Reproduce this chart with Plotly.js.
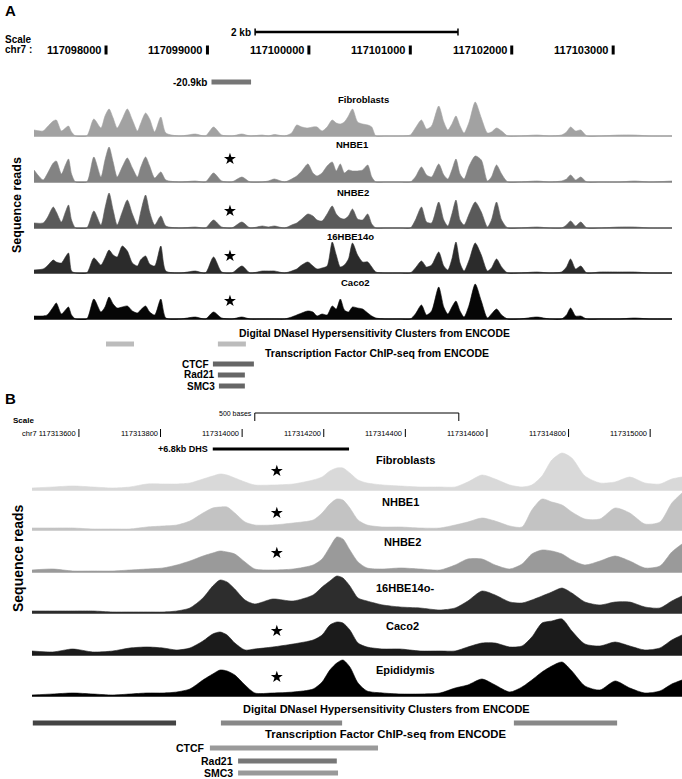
<!DOCTYPE html>
<html><head><meta charset="utf-8">
<script src="https://cdn.plot.ly/plotly-3.0.1.min.js"></script>
<style>html,body{margin:0;padding:0;background:#fff}#chart{width:682px;height:779px}</style>
</head><body><div id="chart"></div>
<script>
// ---------------- Panel A data (chr7, bp) ----------------
const posA = [117097290,117097380,117097420,117097480,117097510,117097560,117097600,117097630,117097660,117097700,
117097810,117097880,117097950,117097990,117098030,117098070,117098110,117098160,117098210,117098260,
117098310,117098340,117098390,117098430,117098480,117098540,117098590,117098730,117098880,117098980,
117099060,117099140,117099240,117099340,117099420,117099540,117099600,117099660,117099760,117099830,
117099880,117099930,117099990,117100040,117100080,117100130,117100180,117100230,117100270,117100310,
117100350,117100390,117100430,117100480,117100530,117100580,117100620,117100660,117100750,117100900,
117101000,117101050,117101110,117101160,117101210,117101280,117101330,117101370,117101410,117101450,
117101490,117101530,117101580,117101640,117101700,117101760,117101800,117101850,117101900,117101960,
117102080,117102250,117102370,117102490,117102540,117102580,117102630,117102680,117102740,117102870,
117103060,117103210,117103360,117103580];
const fibroA = [6,5,9,15,16,5,8,10,4,0, 0,17,8,20,27,18,8,17,27,16, 5,12,23,17,4,19,3,0,2,0, 9,1,0,2,0,1,0,1.5,0,3,
11,9,8,9,9,5,9,16,13,12, 14,20,27,14,12,11,9,0,0,0, 1,8,16,7,10,30,14,6,12,20, 10,3,14,34,18,3,4,8,5,0, 0,1,0,1,4,9,5,6,0,0, 1,1,0,0];
const nhbe1A = [12,2,8,19,21,8,17,23,8,0, 0,25,5,22,35,20,5,15,24,14, 5,14,25,16,4,10,2,0,1,0, 9,1,0,5,0,0,1,3,0,3,
6,11,18,9,6,9,16,20,11,18, 9,12,11,11,12,17,5,0,0,0, 0,5,15,7,5,18,7,3,12,23, 8,3,16,26,22,1,5,17,8,0, 0,1,0,1,3,7,2,5,0,0, 0,1,0,1];
const nhbe2A = [5,5,10,21,16,6,16,23,8,0, 0,17,3,20,35,18,3,16,28,14, 3,15,33,16,3,12,2,0,1,0, 8,1,0,6,0,2,1,2,0,3,
5,9,14,12,8,7,14,22,14,10, 9,12,19,9,8,14,4,0,0,0, 0,8,21,6,5,26,8,2,14,28, 8,3,14,26,16,1,8,26,8,0, 0,1,0,0,3,7,2,6,0,0, 1,1,0,0];
const hbeA = [3,4,7,13,11,10,16,20,2,0, 0,15,8,15,23,18,16,27,22,10, 7,13,17,9,7,27,2,0,2,0, 16,1,0,7,0,2,2,2,0,2,
4,8,11,7,4,5,7,31,18,6, 8,14,30,18,11,11,6,1,0,0, 0,5,12,6,8,21,7,3,14,31, 10,2,13,30,18,2,5,14,6,0, 0,1,0,1,6,14,4,7,0,1, 1,1,0,0];
const caco2A = [3,3,4,12,16,5,9,12,4,0, 0,20,7,12,22,15,11,12,13,8, 6,9,13,7,4,20,1,0,2,0, 7,1,0,2,0,0,0,0,0,2,
4,6,8,7,3,5,4,13,10,20, 9,7,12,11,10,6,3,1,0,0, 0,5,14,4,8,32,12,5,12,18, 8,2,14,35,18,1,5,10,4,0, 0,2,0,0,4,11,3,3,0,0, 0,1,0,0];
const namesA = ['Fibroblasts','NHBE1','NHBE2','16HBE14o','Caco2'];
const ticksA = [117098000,117099000,117100000,117101000,117102000,117103000];
const tickLabelsA = ['117098000','117099000','117100000','117101000','117102000','117103000'];
const scaleA = [117099470, 117101470];          // 2 kb
const dhsA = [117099040, 117099430];            // -20.9kb
const dnaseA = [[117098000,117098276],[117099103,117099379]];
const tfNames = ['CTCF','Rad21','SMC3'];
const tfA = [[117099054,117099458],[117099103,117099369],[117099113,117099369]];
const starPosA = 117099222;
const starHA = [null,23,17,17,18];

// ---------------- Panel B data ----------------
const posB = [117313485,117313536,117313585,117313634,117313683,117313725,117313767,117313806,117313840,117313872,
117313904,117313928,117313946,117313963,117313982,117314007,117314031,117314075,117314125,117314174,
117314196,117314215,117314232,117314247,117314264,117314284,117314306,117314345,117314387,117314436,
117314485,117314522,117314553,117314588,117314620,117314656,117314686,117314710,117314735,117314759,
117314784,117314808,117314840,117314877,117314914,117314950,117314987,117315024,117315053,117315078];
const fibroB = [2,3,4,3,2,3,6,6,6,7, 11,14,16,15,12,8,5,5,6,10, 13,19,22,22,17,10,7,5,4,3, 3,3,8,15,11,5,3,5,14,30, 37,32,14,7,8,13,7,6,11,13];
const nhbe1B = [2,2,2,1,1,1,3,4,5,9, 17,22,23,23,17,8,5,5,7,10, 17,26,31,30,22,10,5,3,3,2, 2,5,8,12,9,4,3,20,31,28, 25,18,11,11,22,17,6,8,27,37];
const nhbe2B = [2,3,1,1,1,2,3,4,7,11, 16,19,21,20,18,10,3,2,3,7, 13,25,35,33,22,10,4,3,4,3, 2,7,13,13,7,3,8,18,22,21, 18,12,7,11,16,11,4,6,20,28];
const hbeB = [2,2,2,2,1,1,1,1,2,5, 15,27,33,31,24,13,9,14,12,18, 26,32,37,35,27,15,12,8,6,5, 3,5,12,22,18,11,10,13,17,21, 25,20,11,8,11,11,6,5,12,17];
const caco2B = [4,3,6,3,4,7,8,7,5,7, 14,21,23,20,12,5,6,8,11,15, 20,30,33,32,25,12,8,6,6,4, 4,4,8,12,12,8,9,18,32,34, 36,24,11,9,13,9,5,7,15,20];
const epiB = [1,2,3,2,1,2,3,3,4,7, 16,22,26,25,21,11,3,3,4,7, 14,26,33,36,29,13,5,3,2,2, 3,8,11,17,11,4,9,16,24,30, 34,25,10,6,15,8,3,5,12,16];
const namesB = ['Fibroblasts','NHBE1','NHBE2','16HBE14o-','Caco2','Epididymis'];
const ticksB = [117313600,117313800,117314000,117314200,117314400,117314600,117314800,117315000];
const tickLabelsB = ['chr7 117313600','117313800','117314000','117314200','117314400','117314600','117314800','117315000'];
const scaleB = [117314031, 117314531];          // 500 bases
const dhsB = [117313928, 117314262];            // +6.8kb DHS
const dnaseB = [[117313487,117313838],[117313948,117314245],[117314666,117314919]];
const tfB = [[117313921,117314333],[117313990,117314232],[117313990,117314235]];
const starPosB = 117314085;
const starHB = [19,17,19,null,24,19];

// ---------------- layout helpers ----------------
const W=682,H=779;
const fx=p=>p/W, fy=p=>1-p/H;
const FONT='"Liberation Sans", Arial, Helvetica, sans-serif';
const data=[];
const layout={width:W,height:H,margin:{l:0,r:0,t:0,b:0,pad:0},showlegend:false,
  paper_bgcolor:'#fff',plot_bgcolor:'rgba(0,0,0,0)',font:{family:FONT,color:'#000'},
  annotations:[],shapes:[]};
layout.xaxis={domain:[fx(34),fx(672)],range:[posA[0],posA[posA.length-1]],visible:false,fixedrange:true};
layout.xaxis2={domain:[fx(32),1],range:[posB[0],posB[posB.length-1]],visible:false,fixedrange:true};

function ann(text,x,yPx,o){
  o=o||{};
  layout.annotations.push({text:text,x:x,y:fy(yPx),xref:o.xref||'paper',yref:'paper',
    xanchor:o.xa||'center',yanchor:'middle',showarrow:false,xshift:o.xs||0,textangle:o.angle||0,
    borderpad:0,
    font:{family:FONT,size:o.size||10,color:'#000',weight:o.w===undefined?'bold':o.w}});
}
function bar(xref,x0,x1,yPx,thick,color){
  layout.shapes.push({type:'rect',xref:xref,yref:'paper',x0:x0,x1:x1,y0:fy(yPx+thick/2),y1:fy(yPx-thick/2),
    fillcolor:color,line:{width:0}});
}
function vline(xref,x,y0Px,y1Px,w,color){
  layout.shapes.push({type:'line',xref:xref,yref:'paper',x0:x,x1:x,y0:fy(y0Px),y1:fy(y1Px),line:{color:color||'#000',width:w}});
}
function hline(xref,x0,x1,yPx,w,color){
  layout.shapes.push({type:'line',xref:xref,yref:'paper',x0:x0,x1:x1,y0:fy(yPx),y1:fy(yPx),line:{color:color||'#000',width:w}});
}

let axN=1;
function addTrack(vals,color,base,xa,pos,trackH,starX,starH,starSize,label,lx,ly,lsize){
  const yid = axN===1?'y':'y'+axN;
  const key = axN===1?'yaxis':'yaxis'+axN;
  layout[key]={domain:[fy(base+1),fy(base-trackH)],range:[-1,trackH],visible:false,fixedrange:true,anchor:xa};
  data.push({type:'scatter',mode:'lines',x:pos,y:vals,xaxis:xa,yaxis:yid,fill:'tozeroy',fillcolor:color,
    line:{color:color,width:0.6,shape:'spline',smoothing:0.7},hoverinfo:'skip'});
  layout.shapes.push({type:'line',xref:xa,yref:yid,x0:pos[0],x1:pos[pos.length-1],y0:0,y1:0,line:{color:color,width:1.6}});
  if(starH!=null){
    data.push({type:'scatter',mode:'markers',x:[starX],y:[starH],xaxis:xa,yaxis:yid,cliponaxis:false,
      marker:{symbol:'star',size:starSize,color:'#000',line:{width:0}},hoverinfo:'skip'});
  }
  ann(label,fx(lx),ly,{size:lsize});
  axN++;
}

// ---------------- Panel A ----------------
const valsA=[fibroA,nhbe1A,nhbe2A,hbeA,caco2A];
const colA=['#a2a2a2','#838383','#5a5a5a','#2b2b2b','#060606'];
const baseA=[136,182,228,273,319];
const lblA=[[363,100],[352,145],[353,192],[350,237],[355,282]];
for(let i=0;i<5;i++) addTrack(valsA[i],colA[i],baseA[i],'x',posA,40,starPosA,starHA[i],9,namesA[i],lblA[i][0],lblA[i][1],9.5);

ann('A',fx(4),11,{xa:'left',size:15});
// scale bar
hline('x',scaleA[0],scaleA[1],32,2.5);
vline('x',scaleA[0],28.5,35.5,1.5); vline('x',scaleA[1],28.5,35.5,1.5);
ann('2 kb',scaleA[0],32,{xref:'x',xa:'right',xs:-3,size:10});
ann('Scale',fx(4),40,{xa:'left',size:10});
ann('chr7 :',fx(4),50,{xa:'left',size:10});
ticksA.forEach((t,i)=>{
  vline('x',t,54.5,45.5,3);
  ann(tickLabelsA[i],t,50,{xref:'x',xa:'right',xs:-4,size:11});
});
bar('x',dhsA[0],dhsA[1],82,5,'#767676');
ann('-20.9kb',dhsA[0],82,{xref:'x',xa:'right',xs:-4,size:10});
ann('Sequence reads',fx(17),205,{angle:-90,size:12.5});
ann('Digital DNaseI Hypersensitivity Clusters from ENCODE',fx(375),333,{size:10.4});
dnaseA.forEach(d=>bar('x',d[0],d[1],344,5,'#bcbcbc'));
ann('Transcription Factor ChIP-seq from ENCODE',fx(377),353,{size:10.5});
const tfYA=[364,375,386];
tfA.forEach((d,i)=>{bar('x',d[0],d[1],tfYA[i],5,'#666666'); ann(tfNames[i],d[0],tfYA[i],{xref:'x',xa:'right',xs:-3,size:10});});

// ---------------- Panel B ----------------
const valsB=[fibroB,nhbe1B,nhbe2B,hbeB,caco2B,epiB];
const colB=['#d9d9d9','#c3c3c3','#9a9a9a','#2d2d2d','#1b1b1b','#000000'];
const baseB=[490,530,572,613,655,696];
const lblB=[[405,460],[400,502],[402,542],[405,588],[402,626],[405,670]];
for(let i=0;i<6;i++) addTrack(valsB[i],colB[i],baseB[i],'x2',posB,40,starPosB,starHB[i],9,namesB[i],lblB[i][0],lblB[i][1],11);

ann('B',fx(4),398,{xa:'left',size:15});
hline('x2',scaleB[0],scaleB[1],413,1);
vline('x2',scaleB[0],413,421,1); vline('x2',scaleB[1],413,421,1);
ann('500 bases',scaleB[0],413,{xref:'x2',xa:'right',xs:-2,size:7,w:'normal'});
ann('Scale',fx(12),420,{xa:'left',size:8});
ticksB.forEach((t,i)=>{
  vline('x2',t,437,429,1);
  ann(tickLabelsB[i],t,433,{xref:'x2',xa:'right',xs:-2,size:7.5,w:'normal'});
});
bar('x2',dhsB[0],dhsB[1],449,3,'#000');
ann('+6.8kb DHS',dhsB[0],449,{xref:'x2',xa:'right',xs:-4,size:9});
ann('Sequence reads',fx(18),558,{angle:-90,size:14});
ann('Digital DNaseI Hypersensitivity Clusters from ENCODE',fx(386),709,{size:11});
const dnaseColB=['#444444','#888888','#888888'];
dnaseB.forEach((d,i)=>bar('x2',d[0],d[1],723,5,dnaseColB[i]));
ann('Transcription Factor ChIP-seq from ENCODE',fx(386),734,{size:11.3});
const tfYB=[748,761,773], tfColB=['#9a9a9a','#777777','#999999'];
tfB.forEach((d,i)=>{bar('x2',d[0],d[1],tfYB[i],5,tfColB[i]); ann(tfNames[i],d[0],tfYB[i],{xref:'x2',xa:'right',xs:-4,size:10.5});});

Plotly.newPlot('chart',data,layout,{staticPlot:true,displayModeBar:false});
</script></body></html>
